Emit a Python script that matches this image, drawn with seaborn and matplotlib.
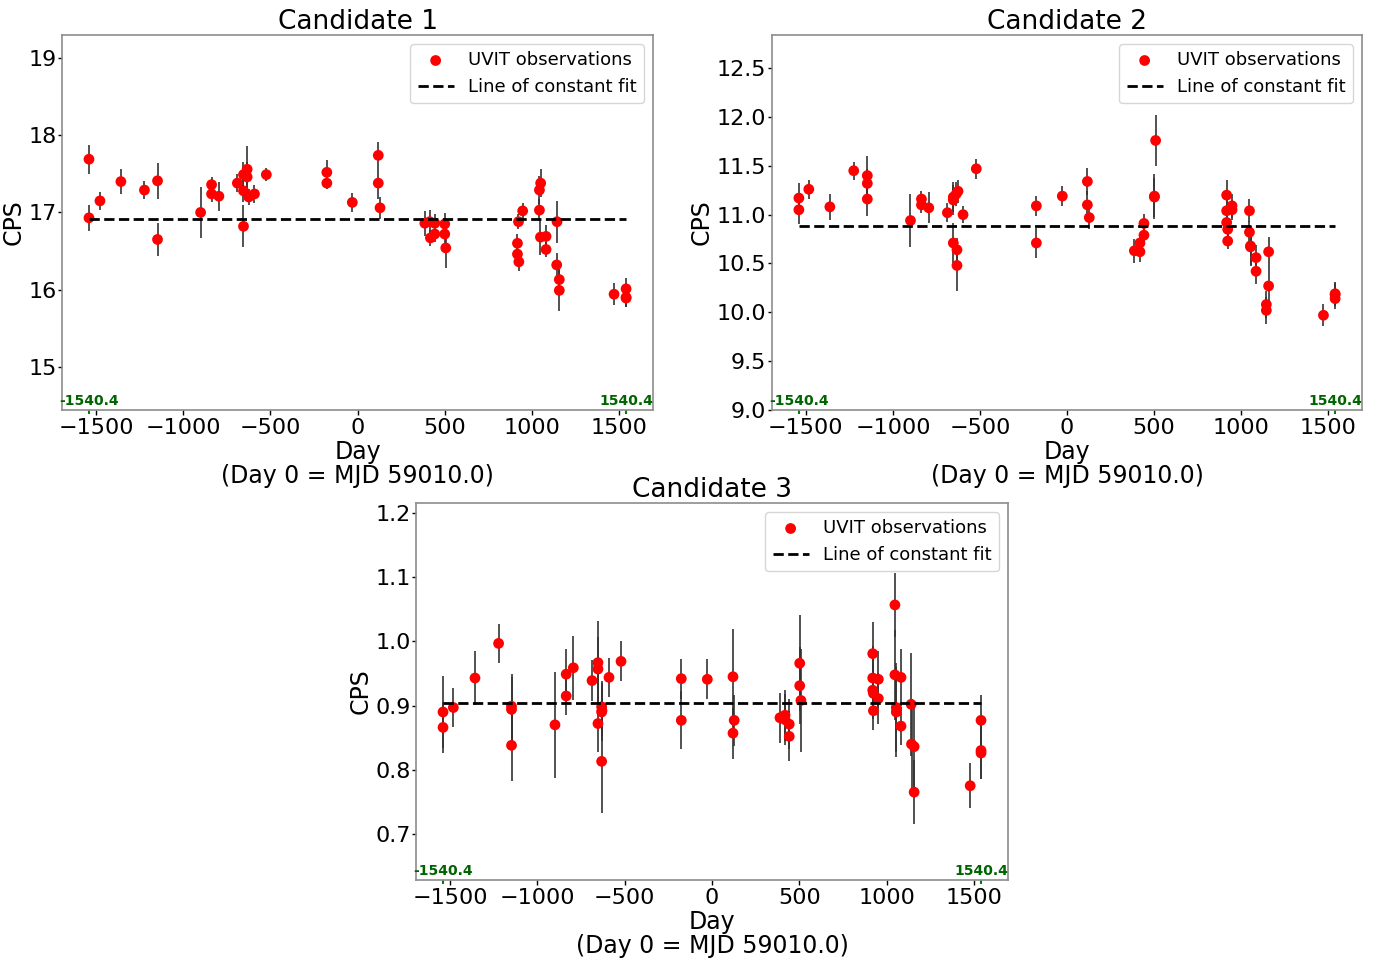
import matplotlib
matplotlib.use("Agg")
import matplotlib.pyplot as plt
import matplotlib.transforms as mtransforms
import seaborn as sns
import pandas as pd

# candidate 1
days_1 = [-1540, -1540, -1477, -1357, -1222, -1147, -1147, -900, -837, -837, -795, -689,
          -654, -654, -654, -633, -633, -624, -591, -523, -176, -176, -30, 119, 119, 129,
          386, 414, 418, 443, 443, 500, 500, 506, 917, 917, 925, 923, 947, 1043, 1043, 1050,
          1049, 1081, 1081, 1144, 1142, 1157, 1157, 1471, 1540, 1540, 1540]
cps_1 = [17.69, 16.93, 17.15, 17.40, 17.29, 17.41, 16.65, 17.00, 17.36, 17.24, 17.21, 17.38,
         17.49, 17.28, 16.82, 17.56, 17.46, 17.20, 17.24, 17.49, 17.52, 17.38, 17.13, 17.74, 17.38, 17.06,
         16.86, 16.88, 16.67, 16.86, 16.72, 16.85, 16.72, 16.54, 16.60, 16.46, 16.36, 16.88, 17.02, 17.29, 17.03, 17.38,
         16.68, 16.69, 16.52, 16.88, 16.32, 16.13, 15.99, 15.94, 16.01, 15.90, 15.89]
err_1 = [0.19, 0.17, 0.12, 0.16, 0.12, 0.23, 0.21, 0.33, 0.10, 0.10, 0.19, 0.12,
         0.17, 0.15, 0.27, 0.30, 0.20, 0.10, 0.12, 0.08, 0.16, 0.07, 0.12, 0.17, 0.20, 0.14,
         0.16, 0.15, 0.10, 0.12, 0.10, 0.14, 0.12, 0.26, 0.12, 0.10, 0.12, 0.10, 0.10, 0.18, 0.14, 0.18,
         0.23, 0.15, 0.10, 0.27, 0.15, 0.20, 0.27, 0.14, 0.14, 0.12, 0.12]
fit_1 = 16.92

# candidate 2
days_2 = [-1540, -1540, -1483, -1362, -1225, -1147, -1147, -1147, -899, -836, -836, -794, -687,
          -653, -653, -653, -637, -626, -632, -632, -597, -521, -176, -176, -27, 117, 117, 128,
          387, 419, 419, 442, 442, 502, 502, 509, 917, 917, 917, 923, 923, 948, 948, 1048, 1048,
          1054, 1054, 1086, 1086, 1158, 1158, 1145, 1145, 1473, 1540, 1540, 1540]
cps_2 = [11.17, 11.05, 11.26, 11.08, 11.45, 11.40, 11.32, 11.16, 10.94, 11.16, 11.10, 11.07, 11.02,
         11.18, 11.15, 10.71, 11.21, 11.24, 10.64, 10.48, 11.00, 11.47, 11.09, 10.71, 11.19, 11.34, 11.10, 10.97,
         10.63, 10.71, 10.62, 10.79, 10.91, 11.19, 11.18, 11.76, 11.20, 11.04, 10.92, 10.85, 10.73, 11.09, 11.05,
         11.04, 10.82, 10.68, 10.67, 10.56, 10.42, 10.62, 10.27, 10.08, 10.02, 9.97, 10.19, 10.18, 10.14]
err_2 = [0.15, 0.15, 0.10, 0.13, 0.09, 0.20, 0.15, 0.17, 0.27, 0.08, 0.08, 0.16, 0.10,
         0.15, 0.15, 0.20, 0.12, 0.12, 0.12, 0.26, 0.09, 0.10, 0.10, 0.15, 0.10, 0.14, 0.14, 0.12,
         0.12, 0.10, 0.10, 0.10, 0.10, 0.23, 0.20, 0.26, 0.15, 0.12, 0.10, 0.10, 0.08, 0.12, 0.10,
         0.12, 0.12, 0.20, 0.20, 0.13, 0.13, 0.15, 0.20, 0.14, 0.14, 0.11, 0.12, 0.12, 0.11]
fit_2 = 10.88

# candidate 3
days_3 = [-1540, -1540, -1481, -1357, -1222, -1148, -1148, -1148, -899, -835, -835, -794, -687,
          -653, -653, -653, -632, -630, -632, -632, -590, -521, -176, -176, -27, 120, 127, 120,
          389, 418, 418, 442, 442, 502, 502, 509, 920, 920, 920, 924, 924, 952, 952, 1047, 1047,
          1055, 1055, 1082, 1082, 1140, 1142, 1157, 1157, 1478, 1540, 1540, 1540]
cps_3 = [0.890, 0.866, 0.897, 0.943, 0.997, 0.899, 0.894, 0.838, 0.870, 0.949, 0.915, 0.959, 0.939,
         0.967, 0.957, 0.872, 0.898, 0.892, 0.890, 0.813, 0.944, 0.969, 0.942, 0.877, 0.941, 0.945, 0.877, 0.857,
         0.881, 0.885, 0.878, 0.871, 0.852, 0.966, 0.931, 0.908, 0.981, 0.943, 0.924, 0.919, 0.892, 0.941, 0.911,
         1.057, 0.948, 0.897, 0.890, 0.944, 0.868, 0.902, 0.840, 0.836, 0.765, 0.775, 0.877, 0.830, 0.826]
err_3 = [0.056, 0.040, 0.030, 0.042, 0.030, 0.050, 0.050, 0.055, 0.083, 0.040, 0.030, 0.050, 0.032,
         0.065, 0.050, 0.045, 0.040, 0.040, 0.045, 0.080, 0.031, 0.031, 0.031, 0.045, 0.031, 0.075, 0.040, 0.040,
         0.039, 0.040, 0.040, 0.039, 0.039, 0.075, 0.060, 0.080, 0.050, 0.050, 0.040, 0.040, 0.030, 0.044, 0.040,
         0.050, 0.070, 0.070, 0.070, 0.044, 0.030, 0.080, 0.070, 0.070, 0.050, 0.035, 0.040, 0.045, 0.040]
fit_3 = 0.904

edge_day = 1540.4
ylims = [(14.44, 19.30), (9.0, 12.84), (0.628, 1.216)]
titles = ["Candidate 1", "Candidate 2", "Candidate 3"]

sns.set_style("white")
plt.rcParams['font.family'] = ['DejaVu Sans']
plt.rcParams.update({"text.color": "black", "axes.labelcolor": "black",
                     "xtick.color": "black", "ytick.color": "black"})

fig = plt.figure(figsize=(13.85, 9.61), dpi=100)
axes = [
    fig.add_axes([0.0448, 0.5734, 0.4267, 0.3902]),
    fig.add_axes([0.5574, 0.5734, 0.4260, 0.3902]),
    fig.add_axes([0.3004, 0.0843, 0.4274, 0.3923]),
]

panels = [(days_1, cps_1, err_1, fit_1), (days_2, cps_2, err_2, fit_2), (days_3, cps_3, err_3, fit_3)]

for ax, (d, c, e, fit), title, yl in zip(axes, panels, titles, ylims):
    df = pd.DataFrame({"day": d, "cps": c, "err": e})
    ax.errorbar(df["day"], df["cps"], yerr=df["err"], fmt="none", ecolor="#333333", elinewidth=1.2, zorder=2)
    sns.scatterplot(data=df, x="day", y="cps", color="red", s=60, edgecolor="none",
                    ax=ax, zorder=3, label="UVIT observations")
    ax.plot([-edge_day, edge_day], [fit, fit], "k--", lw=2, label="Line of constant fit", zorder=4)

    ax.set_xlim(-1.1 * edge_day, 1.1 * edge_day)
    ax.set_ylim(*yl)
    ax.set_title(title, fontsize=19, pad=3)
    ax.set_xlabel("Day\n(Day 0 = MJD 59010.0)", fontsize=17, labelpad=1, linespacing=1.0)
    ax.set_ylabel("CPS", fontsize=17, labelpad=2)
    ax.tick_params(axis="x", which="major", labelsize=16, length=3.5, width=1, pad=2.5,
                   color="black", bottom=True)
    ax.tick_params(axis="y", which="major", labelsize=16, length=3, width=1, pad=1,
                   color="black", left=True)
    ax.set_xticks([-edge_day, edge_day], minor=True)
    ax.tick_params(axis="x", which="minor", length=3, width=1.5, color="green", bottom=True)
    for s in ax.spines.values():
        s.set_color("#8c8c8c")
        s.set_linewidth(1.2)

    trans = mtransforms.blended_transform_factory(ax.transData, ax.transAxes)
    for xv, lab in [(-edge_day, "-1540.4"), (edge_day, "1540.4")]:
        ax.text(xv, 0.005, lab, transform=trans, ha="center", va="bottom",
                color="darkgreen", fontsize=10, fontweight="bold")

    ax.legend(loc="upper right", fontsize=13, framealpha=0.8, handlelength=2.0)

fig.savefig("out.png", dpi=100)
